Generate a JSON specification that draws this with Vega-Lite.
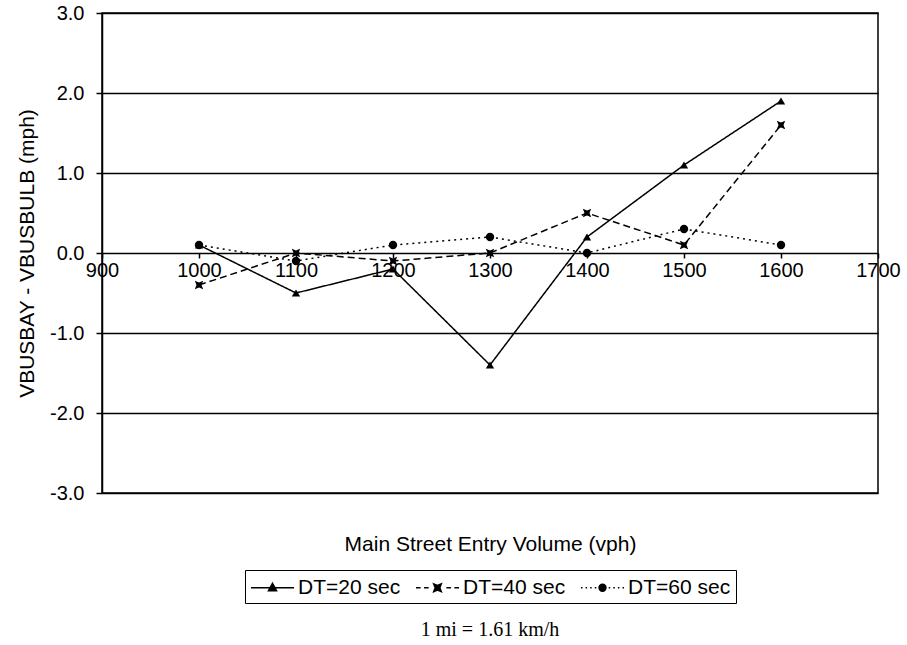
{
  "$schema": "https://vega.github.io/schema/vega-lite/v6.json",
  "width": 776,
  "height": 480,
  "autosize": {"type": "none"},
  "padding": {"left": 102, "top": 13, "right": 29, "bottom": 152},
  "background": "white",
  "config": {
    "font": "Liberation Sans",
    "view": {"stroke": "black", "strokeWidth": 1.5},
    "axis": {"labelFont": "Liberation Sans", "titleFont": "Liberation Sans", "labelColor": "black", "titleColor": "black", "titleFontWeight": "normal"}
  },
  "title": {"text": "1 mi = 1.61 km/h", "orient": "bottom", "anchor": "middle", "font": "Liberation Serif", "fontSize": 20, "fontWeight": "normal", "color": "black", "offset": 16},
  "data": {
    "values": [
      {"vol": 1000, "v": 0.1, "s": "DT=20 sec"},
      {"vol": 1100, "v": -0.5, "s": "DT=20 sec"},
      {"vol": 1200, "v": -0.2, "s": "DT=20 sec"},
      {"vol": 1300, "v": -1.4, "s": "DT=20 sec"},
      {"vol": 1400, "v": 0.2, "s": "DT=20 sec"},
      {"vol": 1500, "v": 1.1, "s": "DT=20 sec"},
      {"vol": 1600, "v": 1.9, "s": "DT=20 sec"},
      {"vol": 1000, "v": -0.4, "s": "DT=40 sec"},
      {"vol": 1100, "v": 0.0, "s": "DT=40 sec"},
      {"vol": 1200, "v": -0.1, "s": "DT=40 sec"},
      {"vol": 1300, "v": 0.0, "s": "DT=40 sec"},
      {"vol": 1400, "v": 0.5, "s": "DT=40 sec"},
      {"vol": 1500, "v": 0.1, "s": "DT=40 sec"},
      {"vol": 1600, "v": 1.6, "s": "DT=40 sec"},
      {"vol": 1000, "v": 0.1, "s": "DT=60 sec"},
      {"vol": 1100, "v": -0.1, "s": "DT=60 sec"},
      {"vol": 1200, "v": 0.1, "s": "DT=60 sec"},
      {"vol": 1300, "v": 0.2, "s": "DT=60 sec"},
      {"vol": 1400, "v": 0.0, "s": "DT=60 sec"},
      {"vol": 1500, "v": 0.3, "s": "DT=60 sec"},
      {"vol": 1600, "v": 0.1, "s": "DT=60 sec"}
    ]
  },
  "encoding": {
    "x": {
      "field": "vol", "type": "quantitative",
      "scale": {"domain": [900, 1700], "nice": false, "zero": false},
      "axis": {
        "title": "Main Street Entry Volume (vph)",
        "values": [900, 1000, 1100, 1200, 1300, 1400, 1500, 1600, 1700],
        "format": "d",
        "offset": -240,
        "domain": false,
        "grid": false,
        "tickColor": "black", "tickSize": 5, "tickWidth": 1.5,
        "labelFontSize": 20, "labelPadding": 2,
        "titleFontSize": 21, "titleY": 280,
        "labelFlush": false
      }
    },
    "y": {
      "field": "v", "type": "quantitative",
      "scale": {"domain": [-3, 3], "nice": false},
      "axis": {
        "title": "VBUSBAY - VBUSBULB (mph)",
        "values": [-3, -2, -1, 0, 1, 2, 3],
        "labelExpr": "replace(format(datum.value, '.1f'), '\u2212', '-')",
        "grid": true, "gridColor": "black", "gridWidth": 1.5, "gridOpacity": 1,
        "domainColor": "black", "domainWidth": 1.5,
        "tickColor": "black", "tickSize": 6, "tickWidth": 1.5,
        "labelFontSize": 20, "labelPadding": 12,
        "titleFontSize": 21, "titlePadding": 12
      }
    }
  },
  "layer": [
    {
      "mark": {"type": "line", "color": "black", "strokeWidth": 1.5},
      "encoding": {
        "strokeDash": {
          "field": "s", "type": "nominal",
          "scale": {"domain": ["DT=20 sec", "DT=40 sec", "DT=60 sec"], "range": [[1, 0], [7, 4], [2, 4]]},
          "legend": null
        }
      }
    },
    {
      "mark": {"type": "point", "filled": true, "color": "black", "opacity": 1, "size": 70},
      "encoding": {
        "shape": {
          "field": "s", "type": "nominal",
          "scale": {"domain": ["DT=20 sec", "DT=40 sec", "DT=60 sec"], "range": ["triangle-up", "M-1,-1L0,-0.6L1,-1L0.6,0L1,1L0,0.6L-1,1L-0.6,0Z", "circle"]},
          "legend": null
        }
      }
    },
    {
      "transform": [{"filter": "datum.v > 100"}],
      "mark": {"type": "point", "filled": true, "color": "black", "opacity": 1},
      "encoding": {
        "shape": {
          "field": "s", "type": "nominal",
          "scale": {"domain": ["DT=20 sec", "DT=40 sec", "DT=60 sec"], "range": [
            "M-1,0L2.74,0M0.87,-0.38L1.22,0.25L0.52,0.25Z",
            "M-1,0L-0.6,0M-0.3,0L0.1,0M1.64,0L2.04,0M2.34,0L2.74,0M0.54,-0.33L0.87,-0.2L1.2,-0.33L1.07,0L1.2,0.33L0.87,0.2L0.54,0.33L0.67,0Z",
            "M-1,0L-0.87,0M-0.6,0L-0.47,0M-0.2,0L-0.07,0M0.2,0L0.33,0M1.41,0L1.54,0M1.81,0L1.94,0M2.21,0L2.34,0M2.61,0L2.74,0M1.17,0A0.3,0.3,0,1,1,0.57,0A0.3,0.3,0,1,1,1.17,0Z"
          ]},
          "legend": {
            "title": null,
            "orient": "none",
            "legendX": 143,
            "legendY": 557,
            "direction": "horizontal",
            "strokeColor": "black",
            "padding": 5,
            "symbolSize": 529,
            "labelFont": "Liberation Sans",
            "labelFontSize": 21,
            "labelColor": "black",
            "labelOffset": 23,
            "columnPadding": 12,
            "zindex": 1,
            "encode": {"symbols": {"update": {"fill": {"value": "black"}, "opacity": {"value": 1}}}}
          }
        }
      }
    },
    {
      "transform": [{"filter": "datum.v > 100"}],
      "mark": {"type": "point", "filled": false, "color": "black", "opacity": 1, "strokeWidth": 1.4},
      "encoding": {
        "shape": {
          "field": "s", "type": "nominal",
          "scale": {"domain": ["DT=20 sec", "DT=40 sec", "DT=60 sec"], "range": [
            "M-1,0L2.74,0M0.87,-0.38L1.22,0.25L0.52,0.25Z",
            "M-1,0L-0.6,0M-0.3,0L0.1,0M1.64,0L2.04,0M2.34,0L2.74,0M0.54,-0.33L0.87,-0.2L1.2,-0.33L1.07,0L1.2,0.33L0.87,0.2L0.54,0.33L0.67,0Z",
            "M-1,0L-0.87,0M-0.6,0L-0.47,0M-0.2,0L-0.07,0M0.2,0L0.33,0M1.41,0L1.54,0M1.81,0L1.94,0M2.21,0L2.34,0M2.61,0L2.74,0M1.17,0A0.3,0.3,0,1,1,0.57,0A0.3,0.3,0,1,1,1.17,0Z"
          ]},
          "legend": {
            "title": null,
            "orient": "none",
            "legendX": 143,
            "legendY": 557,
            "direction": "horizontal",
            "padding": 5,
            "symbolSize": 529,
            "labelFont": "Liberation Sans",
            "labelFontSize": 21,
            "labelColor": "transparent",
            "labelOffset": 23,
            "columnPadding": 12,
            "zindex": 2,
            "encode": {"symbols": {"update": {"stroke": {"value": "black"}, "strokeWidth": {"value": 1.4}, "opacity": {"value": 1}}}}
          }
        }
      }
    }
  ],
  "resolve": {"scale": {"shape": "independent"}, "legend": {"shape": "independent"}}
}
